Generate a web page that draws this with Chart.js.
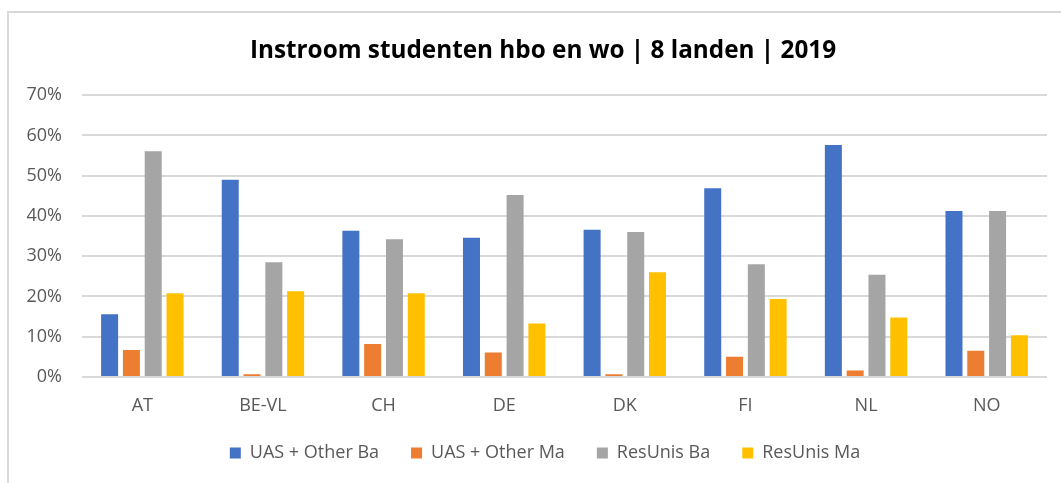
<!DOCTYPE html>
<html>
<head>
<meta charset="utf-8">
<script src="https://cdn.jsdelivr.net/npm/chart.js@4/dist/chart.umd.min.js"></script>
<style>
  html, body { margin: 0; padding: 0; background: #ffffff; }
  #wrap { position: relative; width: 1061px; height: 483px; }
</style>
</head>
<body>
<div id="wrap"><canvas id="c" width="1061" height="483"></canvas></div>
<script>
const categories = ['AT', 'BE-VL', 'CH', 'DE', 'DK', 'FI', 'NL', 'NO'];
const seriesNames = ['UAS + Other Ba', 'UAS + Other Ma', 'ResUnis Ba', 'ResUnis Ma'];
const uasBa = [15.6, 49.0, 36.3, 34.6, 36.6, 46.9, 57.6, 41.2];
const uasMa = [6.7, 0.7, 8.2, 6.1, 0.7, 5.0, 1.6, 6.5];
const resBa = [56.1, 28.5, 34.2, 45.2, 36.0, 28.0, 25.4, 41.2];
const resMa = [20.8, 21.3, 20.8, 13.3, 26.0, 19.4, 14.8, 10.4];
const yTicks = [0, 10, 20, 30, 40, 50, 60, 70];
const titleText = 'Instroom studenten hbo en wo | 8 landen | 2019';

const colors = ['#4472C4', '#ED7D31', '#A5A5A5', '#FFC000'];
const FONT = "'Open Sans', 'DejaVu Sans', sans-serif";

const frame = {
  id: 'frame',
  beforeDraw(chart) {
    const ctx = chart.ctx;
    ctx.save();
    ctx.fillStyle = '#D9D9D9';
    ctx.fillRect(7, 11, 2, chart.height - 11);
    ctx.fillRect(7, 11, chart.width - 7, 2);
    ctx.restore();
  },
  afterLayout(chart) {
    const t = chart.titleBlock;
    if (t) { const c = 543, half = Math.min(c - 10, chart.width - c); t.left = c - half; t.right = c + half; }
    const l = chart.legend;
    if (l) {
      const c = 545, half = (l.right - l.left) / 2, shift = c - (l.left + half);
      l.left += shift; l.right += shift;
      l.top -= 6; l.bottom -= 6;
    }
  }
};

new Chart(document.getElementById('c'), {
  type: 'bar',
  data: {
    labels: categories,
    datasets: [uasBa, uasMa, resBa, resMa].map((d, i) => ({
      label: seriesNames[i],
      data: d,
      backgroundColor: colors[i],
      borderWidth: 0,
      categoryPercentage: 0.723,
      barPercentage: 0.78
    }))
  },
  options: {
    responsive: false,
    devicePixelRatio: 1,
    animation: false,
    layout: { padding: { left: 8, right: 14, top: 0, bottom: 5 } },
    plugins: {
      title: {
        display: true,
        text: titleText,
        color: '#000000',
        font: { family: FONT, size: 24.3, weight: 'bold', lineHeight: 1.2 },
        padding: { top: 36, bottom: 30 }
      },
      legend: {
        position: 'bottom',
        labels: {
          color: '#595959',
          font: { family: FONT, size: 18 },
          boxWidth: 11,
          boxHeight: 11,
          padding: 32
        }
      },
      tooltip: { enabled: false }
    },
    scales: {
      x: {
        grid: { display: false, drawTicks: false },
        border: { display: false },
        ticks: { color: '#595959', font: { family: FONT, size: 18, lineHeight: 1.2 }, padding: 18 },
        afterFit(scale) { scale.height = 41; }
      },
      y: {
        min: 0,
        max: 70,
        afterBuildTicks(scale) { scale.ticks = yTicks.map(v => ({ value: v })); },
        grid: { color: '#D9D9D9', lineWidth: 2, drawTicks: false },
        border: { display: false },
        ticks: {
          color: '#595959',
          font: { family: FONT, size: 18 },
          padding: 20,
          callback: v => v + '%'
        },
        afterFit(scale) { scale.width = 74; }
      }
    }
  },
  plugins: [frame]
});
</script>
</body>
</html>
